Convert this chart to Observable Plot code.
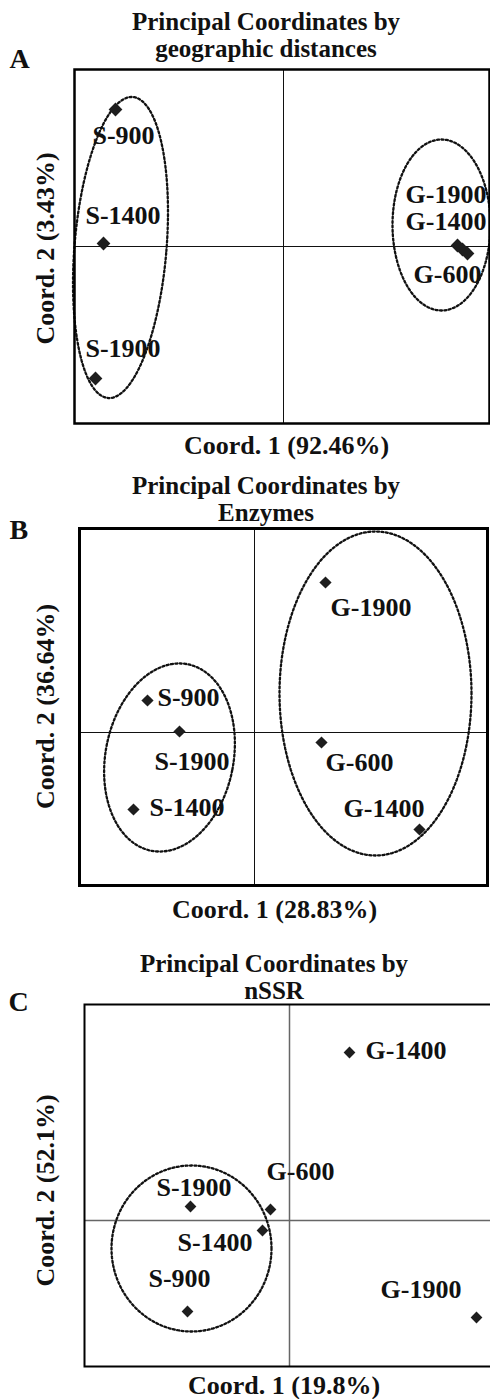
<!DOCTYPE html>
<html><head><meta charset="utf-8">
<script src="https://cdn.jsdelivr.net/npm/d3@7"></script>
<script src="https://cdn.jsdelivr.net/npm/@observablehq/plot@0.6"></script>
<style>
html,body{margin:0;padding:0;background:#fff;overflow:hidden;}
#root{width:490px;height:1399px;overflow:hidden;}
#root svg{display:block;}
</style></head><body><div id="root"></div>
<script>
// ---------- Panel A : geographic distances ----------
const namesA  = ["S-900","S-1400","S-1900","G-1900","G-1400","G-600"];
const coord1A = [-1.68, -1.80, -1.88, 1.74, 1.79, 1.84];
const coord2A = [ 1.37,  0.03, -1.32, 0.01, -0.03, -0.07];
const labelDxA = [-23, -18, -10, -52, -57, -54];
const labelDyA = [ 26, -28, -30, -51, -28,  21];
const groupsA = [
  {cx:-1.63, cy:-0.01, rx:0.46, ry:1.51, angle:-4.7},
  {cx: 1.58, cy: 0.215, rx:0.49, ry:0.855, angle:0}
];
// ---------- Panel B : enzymes ----------
const namesB  = ["S-900","S-1900","S-1400","G-1900","G-600","G-1400"];
const coord1B = [-1.07, -0.75, -1.21, 0.71, 0.67, 1.65];
const coord2B = [ 0.32,  0.01, -0.77, 1.50, -0.10, -0.97];
const labelDxB = [10, -25, 16, 5, 4, -76];
const labelDyB = [-3,  30, -2, 25, 20, -21];
const groupsB = [
  {cx:-0.85, cy:-0.25, rx:0.64, ry:0.95, angle:-11},
  {cx: 1.21, cy: 0.39, rx:0.96, ry:1.62, angle:0}
];
// ---------- Panel C : nSSR ----------
const namesC  = ["G-1400","S-1900","G-600","S-1400","S-900","G-1900"];
const coord1C = [0.60, -0.99, -0.19, -0.27, -1.02, 1.87];
const coord2C = [1.68,  0.14,  0.11, -0.10, -0.91, -0.97];
const labelDxC = [16, -34, -4, -85, -39, -96];
const labelDyC = [-2, -19, -38, 12, -33, -28];
const groupsC = [
  {cx:-0.98, cy:-0.28, rx:0.80, ry:0.83, angle:0}
];

const FONT = "'Liberation Serif','Times New Roman',Times,serif";

function ellipsePoints(groups) {
  return groups.flatMap((e, k) => d3.range(0, 361, 2).map(t => {
    const a = e.angle * Math.PI / 180, r = t * Math.PI / 180;
    const ux = e.rx * Math.cos(r), uy = e.ry * Math.sin(r);
    return {k, x: e.cx + ux * Math.cos(a) - uy * Math.sin(a), y: e.cy + ux * Math.sin(a) + uy * Math.cos(a)};
  }));
}

function panel(o) {
  const pts = o.names.map((n, i) => ({name: n, x: o.c1[i], y: o.c2[i]}));
  const at = (px, py) => ({frameAnchor: "top-left", dx: px - o.ml, dy: py - o.mt});
  const txt = {fontFamily: FONT, fontWeight: "bold", fontSize: 26, fill: "#111", lineAnchor: "bottom"};
  return Plot.plot({
    width: o.width, height: o.height,
    marginLeft: o.ml, marginRight: o.mr, marginTop: o.mt, marginBottom: o.mb,
    x: {domain: o.xDomain, axis: null},
    y: {domain: o.yDomain, axis: null},
    style: {maxWidth: "none", background: "#fff", fontFamily: FONT, overflow: "visible"},
    marks: [
      Plot.ruleX([0], {stroke: o.axisColor, strokeWidth: o.axisW}),
      Plot.ruleY([0], {stroke: o.axisColor, strokeWidth: o.axisW}),
      Plot.line(ellipsePoints(o.groups), {x: "x", y: "y", z: "k", stroke: "#111", strokeWidth: 2.3, strokeDasharray: "2,2.4", curve: "linear"}),
      Plot.dot(pts, {x: "x", y: "y", symbol: "diamond2", r: o.r, fill: "#1e1e1e"}),
      ...pts.map((p, i) => Plot.text([p], {x: "x", y: "y", text: "name", textAnchor: "start", dx: o.ldx[i], dy: o.ldy[i],
        fontFamily: FONT, fontWeight: "bold", fontSize: 26, fill: "#111"})),
      Plot.frame({stroke: "#000", strokeWidth: o.frameW}),
      ...o.title.map((line, i) => Plot.text([line], {text: d => d, ...at(o.titleX, o.titleY[i]), ...txt, fontSize: 25, textAnchor: "middle"})),
      Plot.text([o.letter], {text: d => d, ...at(o.letterX, o.letterY), ...txt, fontSize: 28, textAnchor: "start"}),
      Plot.text([o.xLabel], {text: d => d, ...at(o.xLabelX, o.xLabelY), ...txt, textAnchor: "middle"}),
      Plot.text([o.yLabel], {text: d => d, ...at(o.yLabelX, o.yLabelY), ...txt, textAnchor: "middle", rotate: -90})
    ]
  });
}

const root = document.getElementById("root");
root.append(panel({
  names: namesA, c1: coord1A, c2: coord2A, ldx: labelDxA, ldy: labelDyA, groups: groupsA,
  width: 490, height: 460, ml: 74, mr: 1, mt: 69, mb: 37,
  xDomain: [-2.09, 2.06], yDomain: [-1.77, 1.77],
  axisColor: "#111", axisW: 1, frameW: 2.5, r: 6.2,
  title: ["Principal Coordinates by", "geographic distances"], titleX: 265.5, titleY: [29, 56],
  letter: "A", letterX: 9, letterY: 67,
  xLabel: "Coord. 1 (92.46%)", xLabelX: 286, xLabelY: 453,
  yLabel: "Coord. 2 (3.43%)", yLabelX: 53, yLabelY: 248
}));
root.append(panel({
  names: namesB, c1: coord1B, c2: coord2B, ldx: labelDxB, ldy: labelDyB, groups: groupsB,
  width: 490, height: 460, ml: 79, mr: 3, mt: 68, mb: 35,
  xDomain: [-1.75, 2.33], yDomain: [-1.53, 2.04],
  axisColor: "#111", axisW: 1, frameW: 3, r: 5.5,
  title: ["Principal Coordinates by", "Enzymes"], titleX: 265.5, titleY: [33, 60],
  letter: "B", letterX: 9, letterY: 78,
  xLabel: "Coord. 1 (28.83%)", xLabelX: 274, xLabelY: 457,
  yLabel: "Coord. 2 (36.64%)", yLabelX: 53, yLabelY: 246
}));
root.append(panel({
  names: namesC, c1: coord1C, c2: coord2C, ldx: labelDxC, ldy: labelDyC, groups: groupsC,
  width: 500, height: 479, ml: 84, mr: 4, mt: 84, mb: 33,
  xDomain: [-2.05, 2.07], yDomain: [-1.46, 2.16],
  axisColor: "#666", axisW: 1.5, frameW: 2, r: 5.3,
  title: ["Principal Coordinates by", "nSSR"], titleX: 273.5, titleY: [51, 78],
  letter: "C", letterX: 8, letterY: 90,
  xLabel: "Coord. 1 (19.8%)", xLabelX: 283.5, xLabelY: 473,
  yLabel: "Coord. 2 (52.1%)", yLabelX: 53, yLabelY: 270
}));
</script></body></html>
